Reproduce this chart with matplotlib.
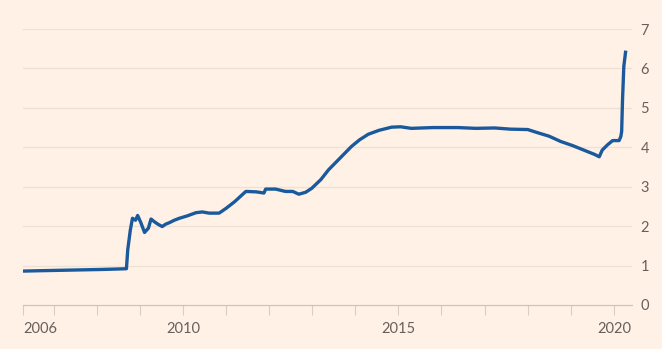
"""Fed balance sheet total assets, $tn, 2006-2020 (FT style)."""

import matplotlib
matplotlib.use("Agg")
import matplotlib.pyplot as plt

# decimal years and $tn
years = [
    2006.29, 2006.70, 2007.15, 2007.60, 2008.07, 2008.40, 2008.69, 2008.72,
    2008.78, 2008.83, 2008.90, 2008.95, 2009.02, 2009.11, 2009.20, 2009.26,
    2009.34, 2009.42, 2009.52, 2009.60, 2009.69, 2009.80, 2009.92, 2010.10,
    2010.30, 2010.45, 2010.61, 2010.84, 2011.00, 2011.20, 2011.46, 2011.70,
    2011.88, 2011.92, 2012.15, 2012.38, 2012.55, 2012.69, 2012.85, 2012.99,
    2013.20, 2013.38, 2013.65, 2013.91, 2014.10, 2014.30, 2014.55, 2014.84,
    2015.05, 2015.30, 2015.80, 2016.38, 2016.80, 2017.23, 2017.60, 2018.00,
    2018.23, 2018.50, 2018.76, 2019.05, 2019.39, 2019.55, 2019.66, 2019.73,
    2019.85, 2019.97, 2020.05, 2020.12, 2020.16, 2020.18, 2020.20, 2020.23,
    2020.27,
]
assets = [
    0.86, 0.87, 0.88, 0.89, 0.90, 0.91, 0.92, 1.40,
    1.90, 2.20, 2.15, 2.27, 2.10, 1.84, 1.95, 2.18,
    2.11, 2.05, 1.99, 2.05, 2.09, 2.15, 2.20, 2.26,
    2.34, 2.36, 2.33, 2.33, 2.45, 2.62, 2.88, 2.87,
    2.84, 2.94, 2.94, 2.88, 2.88, 2.81, 2.86, 2.96,
    3.18, 3.43, 3.73, 4.02, 4.19, 4.33, 4.43, 4.51,
    4.52, 4.48, 4.50, 4.50, 4.48, 4.49, 4.46, 4.45,
    4.37, 4.28, 4.15, 4.04, 3.89, 3.82, 3.76, 3.93,
    4.06, 4.17, 4.17, 4.17, 4.27, 4.40, 5.20, 6.05,
    6.41,
]

x_start, x_end = 2006.29, 2020.42
year_ticks = list(range(2007, 2021))
labelled = {2010: "2010", 2015: "2015", 2020: "2020"}
y_ticks = [0, 1, 2, 3, 4, 5, 6, 7]

bg = "#fff1e5"
text_col = "#66605c"

plt.rcParams["font.family"] = ["Lato", "DejaVu Sans"]

fig = plt.figure(figsize=(6.62, 3.49), dpi=100, facecolor=bg)
ax = fig.add_axes([23 / 662, 1 - 305 / 349, (632 - 23) / 662, (305 - 29) / 349])
ax.set_facecolor(bg)

ax.plot(years, assets, color="#1a5a9c", linewidth=2.4, solid_joinstyle="round",
        zorder=3)

ax.set_xlim(x_start, x_end)
ax.set_ylim(0, 7)

# gridlines
ax.set_yticks(y_ticks)
ax.yaxis.tick_right()
ax.tick_params(axis="y", length=0, pad=6, labelsize=10.5, labelcolor=text_col)
for y in y_ticks[1:]:
    ax.axhline(y, color="#ede0d5", linewidth=0.9, zorder=1)

# x axis
ticks = [x_start] + year_ticks
labels = ["2006"] + [labelled.get(t, "") for t in year_ticks]
ax.set_xticks(ticks)
ax.set_xticklabels(labels)
ax.tick_params(axis="x", length=7, width=0.8, color="#d9cdc2", pad=5,
               labelsize=10.5, labelcolor=text_col)
ax.get_xticklabels()[0].set_horizontalalignment("left")

for s in ["top", "right", "left"]:
    ax.spines[s].set_visible(False)
ax.spines["bottom"].set_color("#d0c4b9")
ax.spines["bottom"].set_linewidth(0.9)

fig.savefig("out.png", dpi=100, facecolor=bg)
